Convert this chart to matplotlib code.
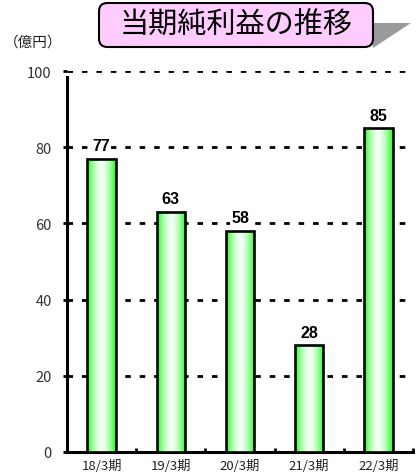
import matplotlib
matplotlib.use("Agg")
import matplotlib.pyplot as plt
from matplotlib.patches import FancyBboxPatch, Polygon
from matplotlib.colors import LinearSegmentedColormap
import numpy as np

plt.rcParams['font.family'] = ['Noto Sans CJK JP', 'DejaVu Sans']

# data
periods = ["18/3期", "19/3期", "20/3期", "21/3期", "22/3期"]
net_income = [77, 63, 58, 28, 85]
y_ticks = [0, 20, 40, 60, 80, 100]
title = "当期純利益の推移"
unit = "（億円）"

W, H = 417, 477
fig = plt.figure(figsize=(W / 100, H / 100), dpi=100)

def px(x, y):
    # pixel coords (top-left origin) -> figure fraction
    return x / W, 1 - y / H

l, t = px(67, 72)
r, b = px(413, 453)
ax = fig.add_axes([l, b, r - l, t - b])

x = np.arange(len(periods))
bars = ax.bar(x, net_income, width=0.41, facecolor='none',
              edgecolor='black', linewidth=1.9, zorder=4)

# green -> white -> green gradient inside each bar
cmap = LinearSegmentedColormap.from_list(
    "gw", ["#22ff22", "#b8ffb8", "#ffffff", "#b8ffb8", "#22ff22"])
grad = np.linspace(0, 1, 256).reshape(1, -1)
for bar in bars:
    x0 = bar.get_x()
    ax.imshow(grad, extent=(x0, x0 + bar.get_width(), 0, bar.get_height()),
              cmap=cmap, aspect='auto', zorder=3, interpolation='bicubic')

for xi, v in zip(x, net_income):
    ax.annotate(str(v), (xi, v), xytext=(0, 4), textcoords='offset points',
                ha='center', va='bottom', fontsize=11.5, fontweight='bold',
                family=['Liberation Sans', 'DejaVu Sans'], zorder=5,
                bbox=dict(facecolor='white', edgecolor='none', pad=0.5))

ax.set_xlim(-0.5, len(periods) - 0.5)
ax.set_ylim(0, 100)
ax.set_yticks(y_ticks)
ax.set_xticks(x)
ax.set_xticklabels(periods, fontsize=9.5, color='#222222')
ax.tick_params(axis='x', length=0, pad=5)
ax.set_xticks(np.arange(len(periods) + 1) - 0.5, minor=True)
ax.tick_params(axis='x', which='minor', direction='in', length=3, width=2)
ax.tick_params(axis='y', length=3, width=2, labelsize=10.5, pad=8,
               labelcolor='#333333')

for yv in y_ticks[1:]:
    ax.axhline(yv, color='black', linewidth=2.0,
               linestyle=(0, (2.0, 3.2)), zorder=1)

for s in ['top', 'right']:
    ax.spines[s].set_visible(False)
ax.spines['left'].set_linewidth(2.2)
ax.spines['bottom'].set_linewidth(2.2)
ax.spines['left'].set_bounds(0, 98.5)

# unit label
ux, uy = px(33, 43)
fig.text(ux, uy, unit, ha='center', va='center', fontsize=10.5,
         color='#222222')

# title box with shadow
shadow = Polygon([px(370, 24), px(411, 24), px(373, 49)], closed=True,
                 transform=fig.transFigure, facecolor='#9a9a9a',
                 edgecolor='none', zorder=1)
fig.patches.append(shadow)
bx0, by1 = px(99, 48)
bx1, by0 = px(373, 4)
box = FancyBboxPatch((bx0, by1), bx1 - bx0, by0 - by1,
                     boxstyle="round,pad=0,rounding_size=0.02",
                     transform=fig.transFigure, facecolor='#ffccff',
                     edgecolor='black', linewidth=1.5, zorder=2,
                     mutation_aspect=W / H)
fig.patches.append(box)
tx, ty = px(236, 26)
fig.text(tx, ty, title, ha='center', va='center', fontsize=21,
         fontweight='normal', zorder=3)

fig.savefig("out.png", dpi=100)
